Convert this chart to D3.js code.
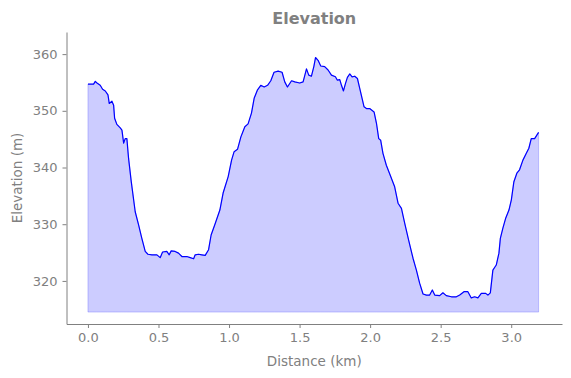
<!DOCTYPE html>
<html>
<head>
<meta charset="utf-8">
<script src="https://cdn.jsdelivr.net/npm/d3@7"></script>
<style>
  body { margin: 0; background: #fff; }
  text { font-family: "DejaVu Sans", sans-serif; fill: #808080; }
</style>
</head>
<body>
<div id="wrapper"></div>
<script>
// distance along the route (km) and elevation (m)
const distanceKm = [
  0.000, 0.040, 0.052, 0.064, 0.087, 0.104, 0.123, 0.142, 0.151, 0.170,
  0.182, 0.189, 0.205, 0.229, 0.241, 0.253, 0.264, 0.276, 0.288, 0.307,
  0.335, 0.359, 0.382, 0.406, 0.425, 0.453, 0.489, 0.512, 0.529, 0.559,
  0.576, 0.590, 0.618, 0.642, 0.666, 0.701, 0.725, 0.749, 0.760, 0.784,
  0.807, 0.831, 0.855, 0.873, 0.899, 0.935, 0.958, 0.994, 1.018, 1.036,
  1.060, 1.084, 1.112, 1.135, 1.159, 1.178, 1.202, 1.225, 1.249, 1.273,
  1.296, 1.319, 1.348, 1.376, 1.395, 1.414, 1.443, 1.466, 1.501, 1.525,
  1.549, 1.565, 1.584, 1.601, 1.613, 1.631, 1.650, 1.678, 1.702, 1.726,
  1.754, 1.768, 1.785, 1.797, 1.811, 1.825, 1.839, 1.856, 1.872, 1.891,
  1.910, 1.926, 1.957, 1.974, 1.997, 2.028, 2.045, 2.061, 2.075, 2.091,
  2.115, 2.146, 2.174, 2.198, 2.222, 2.245, 2.273, 2.304, 2.328, 2.351,
  2.375, 2.399, 2.422, 2.441, 2.458, 2.493, 2.516, 2.540, 2.576, 2.611,
  2.635, 2.665, 2.693, 2.717, 2.741, 2.764, 2.788, 2.819, 2.835, 2.852,
  2.870, 2.894, 2.913, 2.923, 2.941, 2.960, 2.984, 3.001, 3.019, 3.040,
  3.059, 3.083, 3.107, 3.125, 3.142, 3.166, 3.194
]
const elevationM = [
  354.7, 354.7, 355.2, 354.9, 354.5, 353.8, 353.5, 352.8, 351.3, 351.7,
  351.0, 348.7, 347.6, 347.0, 346.6, 344.3, 345.1, 345.1, 341.6, 337.5,
  332.2, 329.9, 327.5, 325.2, 324.7, 324.6, 324.6, 324.1, 325.1, 325.2,
  324.6, 325.3, 325.2, 324.9, 324.3, 324.3, 324.1, 323.9, 324.6, 324.7,
  324.6, 324.5, 325.5, 328.1, 329.9, 332.5, 335.5, 338.4, 341.3, 342.8,
  343.2, 345.4, 347.2, 347.7, 349.6, 352.2, 353.7, 354.5, 354.2, 354.5,
  355.3, 356.8, 357.0, 356.8, 355.1, 354.2, 355.3, 355.1, 354.9, 355.1,
  357.4, 356.3, 356.1, 357.8, 359.4, 358.9, 357.9, 357.8, 357.2, 356.3,
  356.0, 355.4, 355.5, 354.5, 353.5, 354.8, 355.9, 356.5, 356.0, 356.1,
  355.7, 354.0, 350.7, 350.4, 350.4, 349.8, 347.8, 345.1, 344.8, 342.5,
  340.4, 338.4, 336.6, 333.7, 332.8, 330.2, 327.2, 324.0, 321.9, 319.6,
  317.7, 317.5, 317.5, 318.4, 317.5, 317.4, 317.9, 317.4, 317.2, 317.2,
  317.5, 318.1, 318.1, 317.0, 317.2, 317.0, 317.8, 317.8, 317.5, 317.9,
  321.9, 322.8, 324.9, 327.5, 329.3, 331.0, 332.5, 334.3, 337.5, 339.0,
  339.6, 341.3, 342.5, 343.4, 345.1, 345.1, 346.2
]
const fillBase = 314.5
const xTicks = [0, 0.5, 1, 1.5, 2, 2.5, 3]
const yTicks = [320, 330, 340, 350, 360]

const dataset = distanceKm.map((d, i) => ({ dist: d, elev: elevationM[i] }))
const xAccessor = d => d.dist
const yAccessor = d => d.elev

let dimensions = {
  width: 571,
  height: 378,
  margins: { top: 32, right: 9, bottom: 54, left: 66.5 },
}
dimensions.boundedWidth = dimensions.width - dimensions.margins.left - dimensions.margins.right
dimensions.boundedHeight = dimensions.height - dimensions.margins.top - dimensions.margins.bottom

const wrapper = d3.select("#wrapper")
  .append("svg")
  .attr("width", dimensions.width)
  .attr("height", dimensions.height)

const bounds = wrapper.append("g")
  .attr("transform", `translate(${dimensions.margins.left},${dimensions.margins.top})`)

// scales
const xScale = d3.scaleLinear()
  .domain([-0.152, 3.36])
  .range([0, dimensions.boundedWidth])

const yScale = d3.scaleLinear()
  .domain([312.4, 363.9])
  .range([dimensions.boundedHeight, 0])

// filled area under the profile
const areaGenerator = d3.area()
  .x(d => xScale(xAccessor(d)))
  .y0(yScale(fillBase))
  .y1(d => yScale(yAccessor(d)))

bounds.append("path")
  .attr("d", areaGenerator(dataset))
  .attr("fill", "blue")
  .attr("fill-opacity", 0.2)
  .attr("stroke", "blue")
  .attr("stroke-opacity", 0.2)
  .attr("stroke-width", 1)

const lineGenerator = d3.line()
  .x(d => xScale(xAccessor(d)))
  .y(d => yScale(yAccessor(d)))

bounds.append("path")
  .attr("d", lineGenerator(dataset))
  .attr("fill", "none")
  .attr("stroke", "blue")
  .attr("stroke-width", 1.2)
  .attr("stroke-linejoin", "round")

// axes
const xAxis = bounds.append("g")
  .attr("transform", `translate(0,${dimensions.boundedHeight})`)
  .call(d3.axisBottom(xScale).tickValues(xTicks).tickFormat(d3.format(".1f"))
    .tickSizeInner(4).tickSizeOuter(0).tickPadding(5))

const yAxis = bounds.append("g")
  .call(d3.axisLeft(yScale).tickValues(yTicks).tickFormat(d3.format("d"))
    .tickSizeInner(4).tickSizeOuter(0).tickPadding(5))

;[xAxis, yAxis].forEach(axis => {
  axis.select(".domain").attr("stroke", "#808080")
  axis.selectAll(".tick line").attr("stroke", "#808080")
  axis.selectAll(".tick text")
    .style("font-family", "DejaVu Sans, sans-serif")
    .style("font-size", "13px")
    .attr("fill", "#808080")
})

// labels
wrapper.append("text")
  .attr("x", dimensions.margins.left + dimensions.boundedWidth / 2)
  .attr("y", 24)
  .attr("text-anchor", "middle")
  .style("font-size", "16px")
  .style("font-weight", "bold")
  .text("Elevation")

wrapper.append("text")
  .attr("x", dimensions.margins.left + dimensions.boundedWidth / 2)
  .attr("y", 366)
  .attr("text-anchor", "middle")
  .style("font-size", "13.5px")
  .text("Distance (km)")

wrapper.append("text")
  .attr("transform", `translate(22,${dimensions.margins.top + dimensions.boundedHeight / 2}) rotate(-90)`)
  .attr("text-anchor", "middle")
  .style("font-size", "13.5px")
  .text("Elevation (m)")
</script>
</body>
</html>
